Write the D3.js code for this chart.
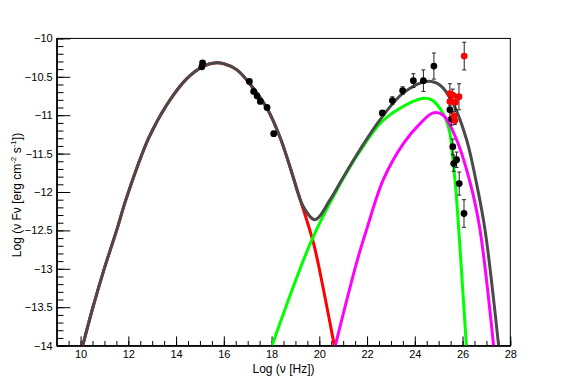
<!DOCTYPE html>
<html>
<head>
<meta charset="utf-8">
<script src="https://d3js.org/d3.v7.min.js"></script>
<style>
body { margin: 0; background: #fff; }
text { font-family: "Liberation Sans", Arial, sans-serif; }
</style>
</head>
<body>
<script>
// curve samples: [log nu, log nuFnu]
var syncPts = [[10.09,-14],[10.5,-13.52],[10.97,-13.02],[11.51,-12.5],[11.92,-12.08],[12.85,-11.3],
  [13.62,-10.86],[14.46,-10.52],[15.16,-10.36],[15.6,-10.32],[16.0,-10.33],[16.55,-10.41],[17.11,-10.6],
  [17.81,-10.91],[18.37,-11.3],[18.79,-11.69],[19.1,-12.0],[19.76,-12.67],[20.18,-13.28],[20.63,-14.0]];
var sscPts = [[18.02,-14],[19.65,-12.65],[20.74,-11.97],[21.7,-11.47],[22.54,-11.11],[23.38,-10.91],
  [24.36,-10.78],[24.71,-10.8],[25.19,-10.98],[25.44,-11.19],[25.64,-11.71],[25.72,-11.97],
  [25.84,-12.49],[25.95,-13.0],[26.16,-14]];
var eicPts = [[20.67,-14],[21.58,-12.9],[21.98,-12.49],[22.68,-11.84],[23.52,-11.37],[24.22,-11.11],
  [24.77,-10.97],[25.19,-11.0],[25.75,-11.32],[26.36,-11.93],[26.73,-12.49],[27.3,-14]];
var totalPts = [[10.09,-14],[10.5,-13.52],[10.97,-13.02],[11.51,-12.5],[11.92,-12.08],[12.85,-11.3],
  [13.62,-10.86],[14.46,-10.52],[15.16,-10.36],[15.6,-10.32],[16.0,-10.33],[16.55,-10.41],[17.11,-10.6],
  [17.81,-10.91],[18.37,-11.3],[18.79,-11.69],[19.33,-12.19],[19.82,-12.36],[20.45,-12.1],[20.94,-11.84],
  [21.7,-11.45],[22.54,-11.06],[23.52,-10.71],[24.5,-10.56],[25.06,-10.61],[25.61,-10.85],[26.17,-11.32],
  [26.58,-11.88],[26.94,-12.49],[27.51,-14]];

// measured points: [x, y, error]
var blackPts = [[15.11,-10.32,0.02],[15.08,-10.37,0.02],[17.07,-10.56,0],[17.25,-10.69,0],[17.39,-10.75,0],
  [17.53,-10.82,0],[17.81,-10.9,0],[18.09,-11.24,0.03],[22.64,-10.97,0.03],[23.06,-10.81,0.05],
  [23.49,-10.68,0.05],[23.94,-10.55,0.09],[24.36,-10.55,0.14],[24.8,-10.36,0.17],[25.47,-10.93,0.1],
  [25.54,-11.05,0.08],[25.59,-11.41,0.1],[25.63,-11.63,0.1],[25.75,-11.58,0.1],[25.86,-11.89,0.15],
  [26.06,-12.28,0.18]];
var redPts = [[26.07,-10.23,0.18],[25.47,-10.72,0.13],[25.59,-10.74,0.08],[25.85,-10.76,0.17],
  [25.47,-10.82,0.06],[25.7,-10.83,0.1],[25.64,-11.01,0.06],[25.68,-11.07,0.05]];

var xMajor = d3.range(10, 28.01, 2);
var xMinor = d3.range(9.5, 28.01, 0.5);
var yMajor = d3.range(-14, -9.99, 0.5);
var yMinor = d3.range(-14, -9.99, 0.1);

var W = 567, H = 384;
var margin = {top: 38.4, right: 56.7, bottom: 38.4, left: 56.7};
var w = W - margin.left - margin.right, h = H - margin.top - margin.bottom;

var svg = d3.select("body").append("svg").attr("width", W).attr("height", H);
var g = svg.append("g").attr("transform", "translate(" + margin.left + "," + margin.top + ")");

var x = d3.scaleLinear().domain([9, 28]).range([0, w]);
var y = d3.scaleLinear().domain([-14, -10]).range([h, 0]);

g.append("clipPath").attr("id", "clip").append("rect").attr("width", w).attr("height", h);

// axes, ticks pointing inward like ROOT
var xa = g.append("g").attr("transform", "translate(0," + h + ")")
  .call(d3.axisBottom(x).tickValues(xMajor).tickSize(-9.2).tickSizeOuter(0).tickPadding(5).tickFormat(d3.format("d")));
g.append("g").attr("transform", "translate(0," + h + ")")
  .call(d3.axisBottom(x).tickValues(xMinor).tickSize(-4.6).tickSizeOuter(0).tickFormat(""));
var ya = g.append("g")
  .call(d3.axisLeft(y).tickValues(yMajor).tickSize(-13.6).tickSizeOuter(0).tickPadding(4).tickFormat(function(d){ return d3.format("")(+d.toFixed(1)); }));
g.append("g")
  .call(d3.axisLeft(y).tickValues(yMinor).tickSize(-6.8).tickSizeOuter(0).tickFormat(""));
g.selectAll(".domain").attr("stroke", "#000");
g.selectAll(".tick line").attr("stroke", "#000");
g.selectAll(".tick text").attr("font-size", 11).attr("fill", "#000")
  .attr("font-family", "'Liberation Sans', Arial, sans-serif");

g.append("rect").attr("width", w).attr("height", h).attr("fill", "none").attr("stroke", "#000").attr("stroke-width", 1);

// titles
svg.append("text").attr("x", margin.left + w / 2).attr("y", 372.5).attr("text-anchor", "middle")
  .attr("font-size", 12).text("Log (\u03bd [Hz])");
var yt = svg.append("text").attr("transform", "translate(21,195) rotate(-90)").attr("text-anchor", "middle")
  .attr("font-size", 12);
yt.append("tspan").text("Log (\u03bd F\u03bd [erg cm");
yt.append("tspan").attr("font-size", 8).attr("dy", -5).text("-2");
yt.append("tspan").attr("dy", 5).text(" s");
yt.append("tspan").attr("font-size", 8).attr("dy", -5).text("-1");
yt.append("tspan").attr("dy", 5).text("])");

// model curves
var line = d3.line().x(function(d){ return x(d[0]); }).y(function(d){ return y(d[1]); })
  .curve(d3.curveCatmullRom.alpha(0.5));
var curves = g.append("g").attr("clip-path", "url(#clip)");
[[syncPts, "#ff0000"], [sscPts, "#00ff00"], [eicPts, "#ff00ff"], [totalPts, "#4a4a4a"]].forEach(function(c) {
  curves.append("path").datum(c[0]).attr("d", line).attr("fill", "none")
    .attr("stroke", c[1]).attr("stroke-width", 3);
});

// data points with error bars
function drawPts(pts, color) {
  var p = g.append("g");
  pts.forEach(function(d) {
    if (d[2] > 0) {
      var x0 = x(d[0]), y1 = y(d[1] + d[2]), y2 = y(d[1] - d[2]);
      p.append("line").attr("x1", x0).attr("x2", x0).attr("y1", y1).attr("y2", y2).attr("stroke", "#222");
      p.append("line").attr("x1", x0 - 2).attr("x2", x0 + 2).attr("y1", y1).attr("y2", y1).attr("stroke", "#222");
      p.append("line").attr("x1", x0 - 2).attr("x2", x0 + 2).attr("y1", y2).attr("y2", y2).attr("stroke", "#222");
    }
  });
  p.selectAll("circle").data(pts).enter().append("circle")
    .attr("cx", function(d){ return x(d[0]); }).attr("cy", function(d){ return y(d[1]); })
    .attr("r", 3.4).attr("fill", color);
}
drawPts(blackPts, "#000");
drawPts(redPts, "#ff0000");
</script>
</body>
</html>
